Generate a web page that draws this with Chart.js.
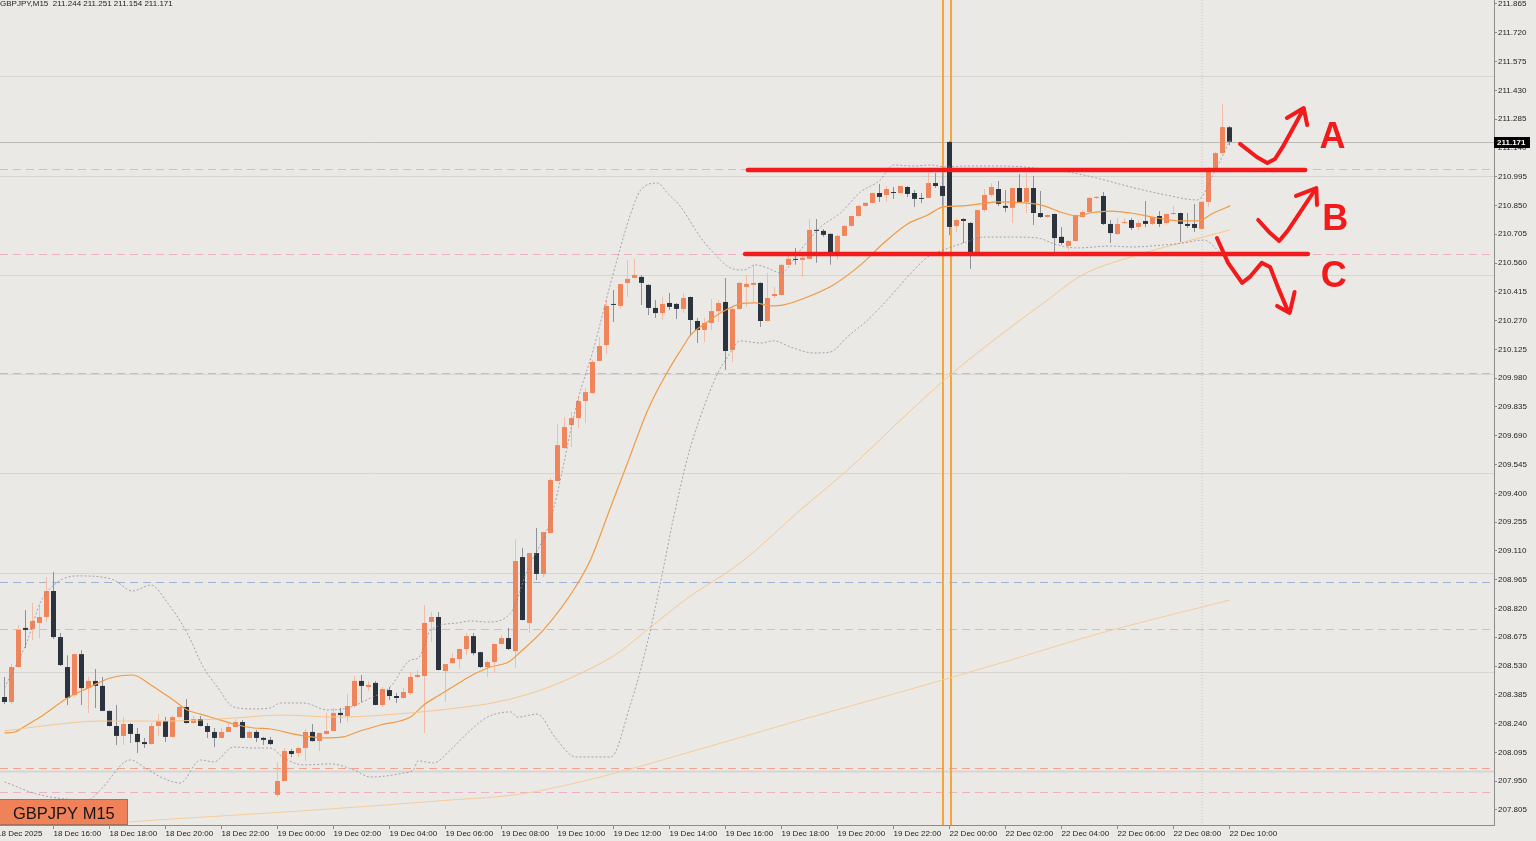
<!DOCTYPE html>
<html><head><meta charset="utf-8">
<script src="https://cdn.jsdelivr.net/npm/chart.js@4.4.1/dist/chart.umd.min.js"></script>
<style>html,body{margin:0;padding:0;background:#EBE9E5;overflow:hidden}#wrap{position:relative;width:1536px;height:841px}</style>
</head><body><div id="wrap"><canvas id="c"></canvas></div>
<script>
// ---------- DATA (GBPJPY M15, bar 0 = 18 Dec 14:15) ----------
const opens=[208.374,208.349,208.525,208.722,208.717,208.747,208.777,208.908,208.676,208.525,
208.384,208.590,208.419,208.455,208.430,208.304,208.228,208.178,208.238,208.188,
208.147,208.137,208.228,208.253,208.173,208.273,208.324,208.243,208.263,208.228,
208.198,208.168,208.198,208.223,208.248,208.168,208.198,208.168,208.158,207.881,
207.951,208.102,208.092,208.117,208.198,208.152,208.188,208.203,208.294,208.278,
208.329,208.455,208.425,208.445,208.334,208.409,208.379,208.369,208.394,208.475,
208.480,208.752,208.777,208.505,208.545,208.565,208.616,208.681,208.600,208.525,
208.550,208.641,208.671,208.605,209.079,208.747,209.099,208.994,209.200,209.462,
209.628,209.744,209.779,209.865,209.905,210.067,210.147,210.354,210.344,210.460,
210.485,210.490,210.450,210.334,210.308,210.359,210.354,210.329,210.389,210.268,
210.223,210.258,210.318,210.364,210.122,210.329,210.440,210.450,210.460,210.268,
210.394,210.399,210.551,210.581,210.576,210.581,210.727,210.722,210.707,210.596,
210.697,210.747,210.797,210.848,210.863,210.913,210.903,210.918,210.913,210.943,
210.913,210.888,210.888,210.963,210.948,211.170,210.747,210.782,210.762,210.601,
210.827,210.903,210.933,210.848,210.838,210.938,210.868,210.938,210.812,210.792,
210.807,210.692,210.646,210.671,210.792,210.817,210.888,210.898,210.757,210.706,
210.762,210.777,210.742,210.772,210.757,210.797,210.762,210.807,210.812,210.757,
210.757,210.732,210.868,211.029,211.114,211.244];
const highs=[208.475,208.540,208.737,208.812,208.848,208.838,208.979,209.004,208.696,208.585,
208.592,208.610,208.475,208.515,208.475,208.306,208.334,208.273,208.243,208.218,
208.168,208.243,208.288,208.273,208.283,208.329,208.364,208.278,208.278,208.243,
208.218,208.218,208.243,208.263,208.258,208.208,208.208,208.173,208.173,208.047,
208.117,208.112,208.122,208.213,208.238,208.195,208.294,208.319,208.319,208.389,
208.480,208.485,208.455,208.455,208.425,208.425,208.394,208.419,208.500,208.510,
208.838,208.802,208.802,208.542,208.595,208.618,208.696,208.696,208.602,208.560,
208.643,208.686,208.722,209.170,209.125,209.101,209.225,209.207,209.477,209.749,
209.785,209.810,209.885,209.930,210.072,210.188,210.374,210.424,210.456,210.576,
210.581,210.500,210.452,210.374,210.389,210.409,210.359,210.409,210.391,210.283,
210.283,210.379,210.374,210.485,210.339,210.465,210.500,210.551,210.462,210.510,
210.440,210.553,210.611,210.636,210.596,210.782,210.782,210.732,210.709,210.699,
210.752,210.799,210.853,210.868,210.915,210.958,210.948,210.943,210.950,210.948,
210.928,210.913,211.014,211.014,211.014,211.175,210.787,210.787,210.767,210.830,
210.933,210.963,210.973,210.928,210.940,211.009,211.014,210.999,210.923,210.804,
210.809,210.742,210.676,210.804,210.827,210.893,210.898,210.918,210.777,210.787,
210.787,210.787,210.777,210.873,210.794,210.822,210.809,210.848,210.814,210.812,
210.858,210.870,211.044,211.119,211.361,211.251];
const lows=[208.339,208.339,208.520,208.621,208.661,208.671,208.752,208.666,208.530,208.334,
208.374,208.334,208.294,208.319,208.302,208.226,208.132,208.132,208.142,208.092,
208.117,208.135,208.178,208.147,208.170,208.271,208.241,208.241,208.226,208.168,
208.122,208.166,208.196,208.221,208.166,208.166,208.147,208.132,208.132,207.870,
207.948,208.072,208.072,208.052,208.150,208.102,208.186,208.201,208.243,208.248,
208.319,208.349,208.404,208.332,208.324,208.359,208.344,208.367,208.384,208.473,
208.193,208.651,208.508,208.349,208.543,208.515,208.585,208.585,208.520,208.475,
208.495,208.639,208.611,208.520,208.760,208.696,208.964,208.979,209.198,209.460,
209.626,209.633,209.729,209.754,209.903,210.065,210.102,210.263,210.329,210.389,
210.483,210.349,210.298,210.283,210.273,210.324,210.278,210.308,210.193,210.157,
210.162,210.223,210.263,210.021,210.062,210.324,210.339,210.364,210.238,210.266,
210.384,210.397,210.549,210.551,210.490,210.579,210.561,210.692,210.551,210.576,
210.695,210.742,210.792,210.843,210.861,210.868,210.868,210.883,210.911,210.893,
210.843,210.863,210.886,210.938,210.853,210.701,210.717,210.661,210.530,210.598,
210.817,210.893,210.848,210.817,210.762,210.866,210.812,210.752,210.787,210.787,
210.616,210.651,210.626,210.669,210.790,210.815,210.883,210.752,210.661,210.704,
210.757,210.727,210.727,210.742,210.752,210.742,210.752,210.802,210.666,210.737,
210.717,210.727,210.843,211.019,211.110,211.154];
const closes=[208.349,208.525,208.712,208.712,208.757,208.777,208.908,208.676,208.535,208.369,
208.590,208.419,208.455,208.430,208.304,208.228,208.178,208.238,208.188,208.147,
208.137,208.228,208.253,208.173,208.273,208.324,208.243,208.263,208.228,208.198,
208.168,208.198,208.223,208.248,208.168,208.198,208.168,208.158,208.137,207.951,
208.102,208.087,208.117,208.198,208.152,208.193,208.203,208.294,208.283,208.329,
208.455,208.430,208.435,208.334,208.414,208.379,208.369,208.399,208.475,208.485,
208.747,208.777,208.510,208.540,208.570,208.616,208.681,208.595,208.525,208.550,
208.641,208.671,208.616,209.059,208.762,209.099,208.994,209.205,209.467,209.643,
209.734,209.779,209.865,209.910,210.062,210.142,210.344,210.349,210.454,210.480,
210.500,210.460,210.334,210.308,210.354,210.339,210.329,210.384,210.273,210.223,
210.258,210.318,210.359,210.117,210.329,210.460,210.455,210.460,210.268,210.384,
210.404,210.551,210.581,210.576,210.586,210.727,210.722,210.702,210.596,210.697,
210.747,210.797,210.848,210.863,210.913,210.893,210.933,210.913,210.948,210.908,
210.883,210.883,210.963,210.948,210.898,210.742,210.777,210.772,210.611,210.827,
210.903,210.943,210.858,210.838,210.938,210.868,210.938,210.812,210.792,210.802,
210.686,210.661,210.671,210.802,210.817,210.888,210.893,210.757,210.711,210.757,
210.767,210.737,210.762,210.757,210.792,210.757,210.807,210.812,210.757,210.747,
210.737,210.868,211.029,211.114,211.245,211.171];

// time axis tick labels (bar index where each label sits)
const xTickBars=[-1.07,7,15,23,31,39,47,55,63,71,79,87,95,103,111,119,127,135,143,151,159,167,175];
const xTickLabels=['18 Dec 2025','18 Dec 16:00','18 Dec 18:00','18 Dec 20:00','18 Dec 22:00',
'19 Dec 00:00','19 Dec 02:00','19 Dec 04:00','19 Dec 06:00','19 Dec 08:00','19 Dec 10:00',
'19 Dec 12:00','19 Dec 14:00','19 Dec 16:00','19 Dec 18:00','19 Dec 20:00','19 Dec 22:00',
'22 Dec 00:00','22 Dec 02:00','22 Dec 04:00','22 Dec 06:00','22 Dec 08:00','22 Dec 10:00'];
// price axis tick labels
const yTickValues=[211.865,211.720,211.575,211.430,211.285,211.140,210.995,210.850,210.705,210.560,
210.415,210.270,210.125,209.980,209.835,209.690,209.545,209.400,209.255,209.110,208.965,208.820,
208.675,208.530,208.385,208.240,208.095,207.950,207.805];
const yTickLabels=yTickValues.map(v=>v.toFixed(3));

// indicators: [bar index, price]
const ma20Pts=[[0,208.193],[1.5,208.198],[3,208.228],[5.1,208.273],[9,208.369],[11.9,208.419],[15.1,208.470],[18.3,208.485],[20.9,208.435],[24.1,208.359],[26.1,208.309],[28,208.288],[30.4,208.263],[32.7,208.238],[35.6,208.218],[38,208.213],[41.9,208.183],[45.6,208.168],[48.4,208.173],[50.4,208.198],[53.7,208.233],[58,208.273],[59.9,208.334],[61.9,208.379],[64.7,208.440],[66.6,208.480],[69.4,208.525],[72,208.550],[73.7,208.601],[77,208.712],[81.3,208.913],[83.7,209.064],[86.6,209.331],[89,209.553],[91.9,209.820],[94.7,210.011],[96.9,210.137],[98,210.197],[100.4,210.263],[102.3,210.308],[105.1,210.354],[107.3,210.359],[109.4,210.344],[111.3,210.349],[114.7,210.389],[118.4,210.450],[122.3,210.551],[125.6,210.661],[129,210.757],[131.9,210.802],[134.1,210.843],[136.6,210.848],[139.4,210.858],[141.9,210.868],[145.6,210.863],[148,210.853],[151.3,210.812],[153.3,210.797],[155.1,210.812],[158,210.822],[160.9,210.812],[164.7,210.787],[168,210.772],[170.4,210.772],[172.7,210.812],[175.1,210.848]];
const ma50Pts=[[0,208.203],[6.6,208.233],[13.7,208.253],[23.3,208.253],[32.7,208.268],[39.4,208.283],[47.6,208.273],[58,208.294],[64.7,208.319],[70.4,208.349],[76.6,208.409],[83.3,208.510],[87.6,208.595],[92.3,208.726],[97.6,208.873],[105.1,209.049],[113.7,209.316],[120.9,209.532],[128,209.769],[135.1,209.996],[142.3,210.198],[149.4,210.384],[153.7,210.495],[160.9,210.591],[168,210.661],[175.1,210.727]];
const ma200Pts=[[-1,207.690],[17.9,207.745],[42.3,207.800],[63.7,207.855],[73.7,207.885],[85.1,207.971],[99.4,208.112],[113.7,208.258],[128,208.399],[142.3,208.545],[156.6,208.696],[175.1,208.863]];
const bbUpperPts=[[0,208.420],[3.3,208.661],[5.1,208.848],[7.6,208.953],[10.4,208.984],[13.7,208.979],[15.6,208.964],[18.3,208.908],[20.9,208.938],[23.3,208.848],[26.1,208.696],[28.4,208.525],[30.4,208.425],[32.7,208.324],[35.6,208.314],[38,208.319],[39.4,208.344],[42.7,208.344],[46.1,208.309],[49,208.319],[52.3,208.369],[55.1,208.425],[58,208.560],[59.1,208.570],[60.9,208.712],[64.7,208.747],[66.6,208.757],[69,208.752],[72.3,208.797],[74.7,209.014],[78,209.266],[81.9,209.870],[84.1,210.122],[86.6,210.460],[89.4,210.802],[90.9,210.928],[93.3,210.963],[94.7,210.913],[96.6,210.843],[99.4,210.691],[101.3,210.611],[103.7,210.535],[105.6,210.525],[107.3,210.551],[109,210.535],[110.9,210.510],[113.7,210.626],[116.6,210.742],[119.4,210.812],[122.3,210.918],[125.1,210.978],[127,211.054],[129.9,211.049],[132.3,211.054],[134.4,211.044],[137.3,211.049],[142.3,211.049],[145.6,211.044],[149.4,211.029],[152.7,211.014],[156.6,210.983],[160.9,210.943],[165.9,210.903],[170.4,210.878],[173,211.029],[175.1,211.180]];
const bbLowerPts=[[0,207.946],[5.1,207.881],[11.9,207.855],[13.7,207.906],[18,208.057],[19.9,208.022],[22.3,207.971],[25.1,207.941],[28,208.057],[29.9,208.047],[32.7,208.122],[35.6,208.117],[38,208.117],[39.9,208.067],[42.7,208.032],[46.6,208.037],[49.9,208.007],[52.3,207.971],[57,207.991],[58.4,208.007],[59.1,208.052],[61.3,208.042],[63.7,208.107],[66.6,208.208],[69,208.273],[72.3,208.299],[73.3,208.273],[76.1,208.288],[78.7,208.168],[81.6,208.072],[86.6,208.072],[89.4,208.334],[91.6,208.611],[93.7,208.948],[95.6,209.281],[97.6,209.583],[99.4,209.784],[101.9,210.006],[103.3,210.087],[105.1,210.168],[108,210.157],[109.9,210.168],[112.3,210.137],[115.6,210.107],[118,210.112],[120.4,210.188],[123.3,210.273],[126.1,210.374],[129,210.490],[131.9,210.591],[134.1,210.626],[137,210.661],[139.9,210.691],[144.1,210.691],[147.6,210.686],[150.4,210.651],[153.3,210.636],[158,210.646],[160.9,210.641],[165.6,210.651],[168.4,210.661],[171.3,210.676],[173.7,210.611],[175.1,210.560]];

// horizontal levels
const roundLevels=[211.5,211.0,210.5,210.0,209.5,209.0,208.5,208.0];
const dashedLevels=[211.032,210.606,210.005,208.953,208.717,208.017,207.896];
const dashedKinds=['pink','pink','mauve','blue','pink','salmon','pink'];
const bidPrice=211.171;
const orangeVLines=[134.07,135.21];
const dottedVLines=[171.07];

// hand-drawn annotations: [bar index, price]
const resistLine=[[106.2,211.029],[185.8,211.029]];
const supportLine=[[105.8,210.606],[186.2,210.606]];
const arrowA=[[176.5,211.160],[178.9,211.094],[180.4,211.064],[181.5,211.084],[182.6,211.145],[184.1,211.240],[185.5,211.331]];
const arrowAHead=[[183.2,211.291],[185.6,211.341],[186.1,211.255]];
const arrowB=[[179.1,210.777],[180.8,210.711],[182.1,210.671],[183.4,210.727],[185.1,210.817],[187.2,210.928]];
const arrowBHead=[[184.5,210.898],[187.4,210.938],[187.5,210.853]];
const arrowC=[[173.2,210.686],[174.8,210.561],[176.8,210.460],[177.9,210.490],[179.6,210.561],[180.8,210.540],[181.9,210.440],[183.4,210.314]];
const arrowCHead=[[181.8,210.344],[183.6,210.309],[184.3,210.414]];
const letters=['A','B','C'];
const letterPos=[[189.7,211.140],[190.1,210.727],[189.9,210.439]];

// ---------- CHART ----------
const FONT="'Liberation Sans', Arial, sans-serif";
const BULL='#F0845A', BEAR='#2B333F', BULL_WICK='#F2BCA6', BEAR_WICK='#8E9298';
const X_MIN=-4.5/7, X_MAX=1489.5/7;
const Y_MAX=211.8851, Y_MIN=207.7293;
const bull=i=>closes[i]>=opens[i];
const toXY=a=>a.map(([x,y])=>({x,y}));

function lineDs(pts,color,width,dash){
  return {type:'line',data:toXY(pts),borderColor:color,borderWidth:width,borderDash:dash||[],
    pointRadius:0,fill:false,cubicInterpolationMode:'monotone',order:0};
}

const levelColors={pink:'#EDB0C8',mauve:'#D7B2C6',blue:'#9FB3D6',salmon:'#F2A28C'};

const backdrop={id:'backdrop',
  beforeDraw(chart){const c=chart.ctx;c.save();c.fillStyle='#EBE9E5';c.fillRect(0,0,chart.width,chart.height);c.restore();},
  beforeDatasetsDraw(chart){
    const c=chart.ctx,a=chart.chartArea,x=chart.scales.x,y=chart.scales.y;
    c.save();c.beginPath();c.rect(a.left,a.top,a.right-a.left,a.bottom-a.top);c.clip();
    const h=(v,col,w,dash)=>{const py=Math.round(y.getPixelForValue(v))+0.5;c.strokeStyle=col;c.lineWidth=w;c.setLineDash(dash);c.beginPath();c.moveTo(a.left,py);c.lineTo(a.right,py);c.stroke();};
    roundLevels.forEach(v=>h(v,'#D7D5D1',v===208.0?2:1,[]));
    h(bidPrice,'#B9B8B6',1,[]);
    dashedLevels.forEach((v,i)=>h(v,levelColors[dashedKinds[i]],1,[8,5]));
    const vl=(b,col,w,dash)=>{const px=Math.round(x.getPixelForValue(b));c.strokeStyle=col;c.lineWidth=w;c.setLineDash(dash);c.beginPath();c.moveTo(px,a.top);c.lineTo(px,a.bottom);c.stroke();};
    dottedVLines.forEach(b=>vl(b+0.07,'#C4C3C1',1,[1,2]));
    orangeVLines.forEach(b=>vl(b,'#F7A53A',2,[]));
    c.restore();
  },
  afterDatasetsDraw(chart){
    const c=chart.ctx,x=chart.scales.x,y=chart.scales.y;
    c.save();
    c.strokeStyle='#F21A1A';c.lineCap='round';c.lineJoin='round';c.setLineDash([]);
    const poly=(pts,w)=>{c.lineWidth=w;c.beginPath();pts.forEach(([b,p],i)=>{const px=x.getPixelForValue(b),py=y.getPixelForValue(p);i?c.lineTo(px,py):c.moveTo(px,py);});c.stroke();};
    poly(resistLine,4.5);poly(supportLine,4.5);
    [arrowA,arrowAHead,arrowB,arrowBHead,arrowC,arrowCHead].forEach(p=>poly(p,4));
    c.fillStyle='#F21A1A';c.font="bold 36px "+FONT;c.textAlign='center';c.textBaseline='alphabetic';
    letters.forEach((t,i)=>c.fillText(t,x.getPixelForValue(letterPos[i][0]),y.getPixelForValue(letterPos[i][1])));
    c.restore();
  },
  afterDraw(chart){
    const c=chart.ctx,a=chart.chartArea,y=chart.scales.y;
    c.save();
    // header
    c.fillStyle='#1E1E1E';c.font="8px "+FONT;c.textAlign='left';c.textBaseline='alphabetic';
    c.fillText('GBPJPY,M15  '+opens[opens.length-1].toFixed(3)+' '+highs[highs.length-1].toFixed(3)+' '+lows[lows.length-1].toFixed(3)+' '+closes[closes.length-1].toFixed(3),0,6);
    // symbol box
    c.fillStyle='#F0825A';c.fillRect(0,799,128,26);
    c.strokeStyle='#A87058';c.lineWidth=1;c.strokeRect(-0.5,799.5,128,25);
    c.fillStyle='#151515';c.font="16.5px "+FONT;c.fillText('GBPJPY M15',13,818.5);
    // current price box
    const py=y.getPixelForValue(bidPrice);
    c.fillStyle='#000';c.fillRect(a.right,Math.round(py)-5,36,11);
    c.fillStyle='#fff';c.font="bold 8px "+FONT;c.textBaseline='middle';c.fillText(bidPrice.toFixed(3),a.right+3,Math.round(py)+0.5);
    c.restore();
  }
};

new Chart(document.getElementById('c'),{
  type:'bar',
  data:{datasets:[
    lineDs(bbUpperPts,'rgba(140,136,160,0.75)',1,[2,2]),
    lineDs(bbLowerPts,'rgba(140,136,160,0.75)',1,[2,2]),
    lineDs(ma200Pts,'#F5CC9C',1),
    lineDs(ma50Pts,'#F6C790',1),
    lineDs(ma20Pts,'#F09A45',1.2),
    {type:'bar',data:opens.map((o,i)=>({x:i,y:[o,closes[i]]})),grouped:false,barThickness:5,minBarLength:1,
     backgroundColor:opens.map((o,i)=>bull(i)?BULL:BEAR),borderWidth:0,inflateAmount:0,order:1},
    {type:'bar',data:lows.map((l,i)=>({x:i,y:[l,highs[i]]})),grouped:false,barThickness:1,minBarLength:1,
     backgroundColor:lows.map((l,i)=>bull(i)?BULL_WICK:BEAR_WICK),borderWidth:0,inflateAmount:0,order:2}
  ]},
  options:{
    responsive:true,maintainAspectRatio:false,animation:false,devicePixelRatio:1,events:[],
    layout:{padding:0},
    plugins:{legend:{display:false},tooltip:{enabled:false},title:{display:false}},
    scales:{
      x:{type:'linear',position:'bottom',min:X_MIN,max:X_MAX,offset:false,
        grid:{display:true,drawOnChartArea:false,drawTicks:true,tickLength:4,color:'#8C8C8C',offset:false},
        border:{display:true,color:'#8C8C8C',width:1},
        ticks:{autoSkip:false,maxRotation:0,minRotation:0,align:'start',padding:0,color:'#1E1E1E',
          font:{family:FONT,size:8},callback:(v,i)=>xTickLabels[i]},
        afterBuildTicks:s=>{s.ticks=xTickBars.map(v=>({value:v}));},
        afterFit:s=>{s.height=16;s.paddingLeft=0;s.paddingRight=0;}
      },
      y:{type:'linear',position:'right',min:Y_MIN,max:Y_MAX,
        grid:{display:true,drawOnChartArea:false,drawTicks:true,tickLength:3,color:'#8C8C8C'},
        border:{display:true,color:'#8C8C8C',width:1},
        ticks:{autoSkip:false,padding:1,color:'#1E1E1E',font:{family:FONT,size:8},callback:(v,i)=>yTickLabels[i]},
        afterBuildTicks:s=>{s.ticks=yTickValues.map(v=>({value:v}));},
        afterFit:s=>{s.width=42;s.paddingTop=0;s.paddingBottom=0;}
      }
    }
  },
  plugins:[backdrop]
});
</script>
</body></html>
